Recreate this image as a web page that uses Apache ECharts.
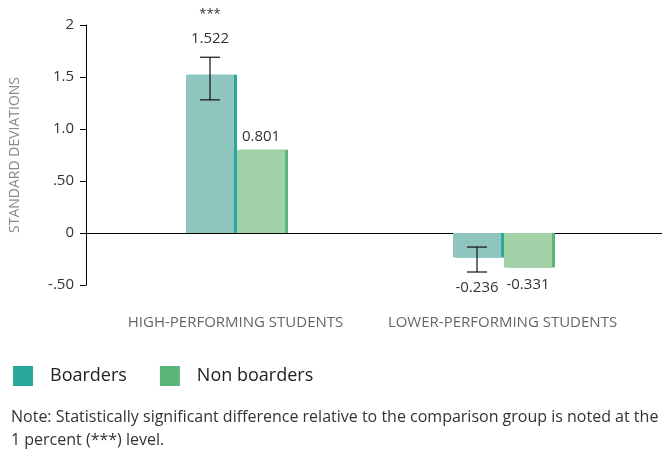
<!DOCTYPE html>
<html>
<head>
<meta charset="utf-8">
<script src="https://cdn.jsdelivr.net/npm/echarts@6/dist/echarts.min.js"></script>
<style>
  html, body { margin: 0; padding: 0; background: #fff; }
  #chart { width: 662px; height: 449px; }
</style>
</head>
<body>
<div id="chart"></div>
<script>
const categories = ['HIGH-PERFORMING STUDENTS', 'LOWER-PERFORMING STUDENTS'];
const boarders = [1.522, -0.236];
const nonBoarders = [0.801, -0.331];
const boardersErrLow = [1.28, -0.375];
const boardersErrHigh = [1.69, -0.135];
const stars = ['***', ''];
const yTickLabels = { '-0.5': '-.50', '0': '0', '0.5': '.50', '1': '1.0', '1.5': '1.5', '2': '2' };

const FONT = '"Open Sans"';
const barW = 48;
const gap = 3;

const chart = echarts.init(document.getElementById('chart'));

function barData(values, isBoarder) {
    return values.map((v, i) => ({
        value: v,
        label: {
            show: true,
            position: v >= 0 ? 'top' : 'bottom',
            distance: isBoarder ? (v >= 0 ? 26 : 20) : (v >= 0 ? 3 : 7),
            formatter: isBoarder && stars[i]
                ? '{s|' + stars[i] + '}\n{v|' + v.toFixed(3) + '}'
                : '{v|' + v.toFixed(3) + '}',
            rich: {
                s: { fontSize: 13, color: '#333', fontFamily: FONT, lineHeight: 24, padding: [0, 0, 4, 0] },
                v: { fontSize: 15, color: '#333', fontFamily: FONT, lineHeight: 20 }
            }
        }
    }));
}

const option = {
    animation: false,
    grid: [
        { left: 82, right: 0, top: 25, bottom: 164 },
        { left: 102, right: 26, top: 25, bottom: 164 }
    ],
    legend: {
        left: 8,
        top: 361,
        itemWidth: 20,
        itemHeight: 20,
        itemGap: 33,
        icon: 'rect',
        textStyle: { fontSize: 18, color: '#222', fontFamily: FONT, padding: [0, 0, 0, 12] },
        data: [
            { name: 'Boarders', itemStyle: { color: '#2aa89c', shadowColor: 'transparent' } },
            { name: 'Non boarders', itemStyle: { color: '#5cb67b', shadowColor: 'transparent' } }
        ]
    },
    title: {
        left: 6,
        top: 401,
        text: 'Note: Statistically significant difference relative to the comparison group is noted at the\n1 percent (***) level.',
        textStyle: { fontSize: 16, fontWeight: 'normal', color: '#333', fontFamily: FONT, lineHeight: 23 }
    },
    xAxis: [
        {
            gridIndex: 0, type: 'category', data: categories,
            axisLine: { onZero: true, lineStyle: { color: '#000', width: 1 } },
            axisTick: { show: false }, axisLabel: { show: false }
        },
        {
            gridIndex: 1, type: 'category', data: categories,
            axisLine: { show: false }, axisTick: { show: false },
            axisLabel: { interval: 0, margin: 30, fontSize: 15, color: '#666', fontFamily: FONT }
        }
    ],
    yAxis: [
        {
            gridIndex: 0, type: 'value', min: -0.5, max: 2, interval: 0.5,
            name: 'STANDARD DEVIATIONS', nameLocation: 'middle', nameGap: 64,
            nameTextStyle: { fontSize: 14, color: '#8a8a8a', fontFamily: FONT },
            axisLine: { show: true, lineStyle: { color: '#000', width: 1 } },
            axisTick: { show: true, length: 6, lineStyle: { color: '#000' } },
            splitLine: { show: false },
            axisLabel: {
                margin: 12, fontSize: 15, color: '#333', fontFamily: FONT,
                formatter: v => yTickLabels[String(v)]
            }
        },
        {
            gridIndex: 1, type: 'value', min: -0.5, max: 2, interval: 0.5, show: false
        }
    ],
    series: [
        {
            name: 'Boarders', type: 'bar', xAxisIndex: 1, yAxisIndex: 1,
            barWidth: barW, barGap: (gap / barW * 100) + '%',
            itemStyle: { color: '#8ec5bf', shadowColor: '#2aa89c', shadowOffsetX: gap, shadowBlur: 0 },
            data: barData(boarders, true)
        },
        {
            name: 'Non boarders', type: 'bar', xAxisIndex: 1, yAxisIndex: 1,
            barWidth: barW,
            itemStyle: { color: '#a2d1a7', shadowColor: '#5cb67b', shadowOffsetX: gap, shadowBlur: 0 },
            data: barData(nonBoarders, false)
        },
        {
            type: 'custom', xAxisIndex: 1, yAxisIndex: 1, z: 10,
            data: categories.map((c, i) => [i, boardersErrLow[i], boardersErrHigh[i]]),
            renderItem: function (params, api) {
                const lo = api.coord([api.value(0), api.value(1)]);
                const hi = api.coord([api.value(0), api.value(2)]);
                const x = lo[0] - (barW + gap) / 2;
                const cap = 10;
                const style = { stroke: '#111', lineWidth: 1.2 };
                return {
                    type: 'group',
                    children: [
                        { type: 'line', shape: { x1: x, y1: lo[1], x2: x, y2: hi[1] }, style },
                        { type: 'line', shape: { x1: x - cap, y1: lo[1], x2: x + cap, y2: lo[1] }, style },
                        { type: 'line', shape: { x1: x - cap, y1: hi[1], x2: x + cap, y2: hi[1] }, style }
                    ]
                };
            }
        }
    ]
};

chart.setOption(option);
</script>
</body>
</html>
